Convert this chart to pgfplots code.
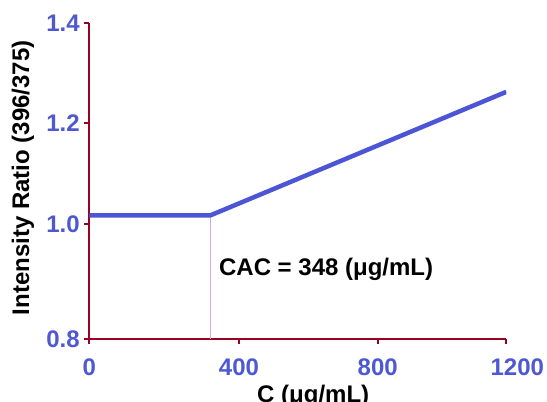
\documentclass[border=0pt]{standalone}
\usepackage{fontspec}
\setmainfont{Liberation Sans}
\usepackage{pgfplots}
\pgfplotsset{compat=1.18}
\definecolor{axred}{RGB}{153,0,34}
\definecolor{lineblue}{RGB}{75,85,214}
\definecolor{tickblue}{RGB}{78,88,210}
\definecolor{vline}{RGB}{212,170,222}
\begin{document}
\begin{tikzpicture}
\begin{axis}[
  at={(0,0)}, anchor=south west,
  scale only axis, width=417pt, height=316pt,
  xmin=0, xmax=1200, ymin=0.7711, ymax=1.4,
  axis lines*=left,
  axis line style={draw=axred, line width=2.2pt},
  tick style={draw=axred, line width=2pt},
  tick align=outside, major tick length=5pt,
  xtick={0,430.8,830,1200}, xticklabels={0,400,800,\hspace*{22pt}1200},
  ytick={0.7711,1.0,1.2,1.4}, yticklabels={0.8,1.0,1.2,1.4},
  ticklabel style={font=\fontsize{24}{24}\selectfont\bfseries, text=tickblue},
  xticklabel style={yshift=-11pt},
  yticklabel style={xshift=-1pt},
  every axis x label/.style={at={(axis description cs:0.537,0)}, anchor=north, inner sep=0pt, yshift=-46pt, font=\fontsize{24}{24}\selectfont\bfseries},
  every axis y label/.style={at={([xshift=-55pt]axis description cs:0,0.51)}, rotate=90, anchor=south, inner sep=0pt, font=\fontsize{24}{24}\selectfont\bfseries},
  xlabel={C (μg/mL)},
  ylabel={Intensity Ratio (396/375)},
]
\addplot[vline, line width=1pt] coordinates {(348,0.7711) (348,1.017)};
\addplot[lineblue, line width=4.5pt] coordinates {(0,1.017) (348,1.017) (1200,1.263)};
\node[anchor=west, inner sep=0pt, font=\fontsize{24}{24}\selectfont\bfseries] at (axis cs:373,0.91) {CAC = 348 (μg/mL)};
\end{axis}
\pgfresetboundingbox
\useasboundingbox (-89.3pt,-63pt) rectangle (457.7pt,339pt);
\end{tikzpicture}
\end{document}
